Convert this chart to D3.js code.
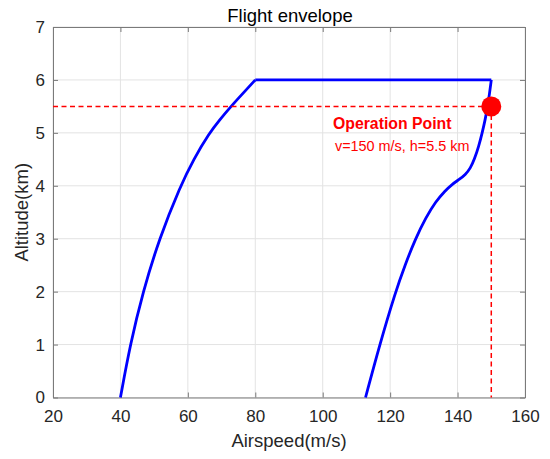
<!DOCTYPE html>
<html>
<head>
<meta charset="utf-8">
<script src="https://cdn.jsdelivr.net/npm/d3@7"></script>
<style>
  html, body { margin: 0; padding: 0; background: #fff; }
  svg { display: block; }
  text { font-family: "Liberation Sans", Arial, Helvetica, sans-serif; }
</style>
</head>
<body>
<script>
// ---- data ----
const xTicks = [20, 40, 60, 80, 100, 120, 140, 160];
const yTicks = [0, 1, 2, 3, 4, 5, 6, 7];

// low-speed (stall) boundary
const leftSpeed = [40, 42.9, 46.7, 51.5, 57.8, 61.7, 66.4, 69.5, 72.8, 76.4, 80];
const leftAlt   = [0, 1, 2, 3, 4, 4.5, 5.0, 5.25, 5.5, 5.75, 6];
// ceiling
const topSpeed = [80, 150];
const topAlt   = [6, 6];
// high-speed boundary
const rightSpeed = [150, 149.5, 148.9, 148.2, 147.3, 146.3, 145.0, 143.8, 142.3, 140.5, 138.4, 136.2, 133.5, 130.6, 127.5, 124.4, 121.6, 116.9, 112.7];
const rightAlt   = [6, 5.75, 5.5, 5.25, 5.0, 4.75, 4.5, 4.33, 4.21, 4.12, 4.03, 3.9, 3.7, 3.4, 3, 2.5, 2, 1, 0];

const opSpeed = 150, opAlt = 5.5;
const opTitle = "Operation Point";
const opText = "v=150 m/s, h=5.5 km";

// ---- layout ----
const W = 550, H = 459;
const L = 53, R = 525, T = 27, B = 397.5;

const svg = d3.select("body").append("svg").attr("width", W).attr("height", H);

const x = d3.scaleLinear().domain([20, 160]).range([L, R]);
const y = d3.scaleLinear().domain([0, 7]).range([B, T]);

// grid
const grid = svg.append("g").attr("stroke", "#e3e3e3").attr("stroke-width", 1);
xTicks.forEach(t => grid.append("line").attr("x1", x(t)).attr("x2", x(t)).attr("y1", T).attr("y2", B));
yTicks.forEach(t => grid.append("line").attr("y1", y(t)).attr("y2", y(t)).attr("x1", L).attr("x2", R));

const axisColor = "#7a7a7a";
const tickColor = "#262626";
const fmt = d3.format("d");

// axes (ticks inward)
const gx = svg.append("g").attr("transform", `translate(0,${B})`)
  .call(d3.axisBottom(x).tickValues(xTicks).tickFormat(fmt).tickSizeInner(-5).tickSizeOuter(0).tickPadding(12));
const gy = svg.append("g").attr("transform", `translate(${L},0)`)
  .call(d3.axisLeft(y).tickValues(yTicks).tickFormat(fmt).tickSizeInner(-5).tickSizeOuter(0).tickPadding(8));
const gx2 = svg.append("g").attr("transform", `translate(0,${T})`)
  .call(d3.axisTop(x).tickValues(xTicks).tickSizeInner(-5).tickSizeOuter(0).tickFormat(""));
const gy2 = svg.append("g").attr("transform", `translate(${R},0)`)
  .call(d3.axisRight(y).tickValues(yTicks).tickSizeInner(-5).tickSizeOuter(0).tickFormat(""));
[gx, gy, gx2, gy2].forEach(g => {
  g.select(".domain").attr("stroke", axisColor);
  g.selectAll(".tick line").attr("stroke", axisColor);
  g.selectAll(".tick text").attr("fill", tickColor).style("font-size", "17px")
    .style("font-family", '"Liberation Sans", Arial, sans-serif');
});
gx.selectAll(".tick text").attr("dy", "0.71em");

// envelope
const zip = (a, b) => a.map((v, i) => [v, b[i]]);
const smooth = d3.line().x(d => x(d[0])).y(d => y(d[1])).curve(d3.curveBasis);
const straight = d3.line().x(d => x(d[0])).y(d => y(d[1]));
const env = svg.append("g").attr("fill", "none").attr("stroke", "#0000ff").attr("stroke-width", 2.8)
  .attr("stroke-linejoin", "round");
env.append("path").attr("d", smooth(zip(leftSpeed, leftAlt)));
env.append("path").attr("d", straight(zip(topSpeed, topAlt)));
env.append("path").attr("d", smooth(zip(rightSpeed, rightAlt)));

// operation point guides
const guide = svg.append("g").attr("stroke", "#ff0000").attr("stroke-width", 1.5).attr("stroke-dasharray", "5,3.5");
guide.append("line").attr("x1", x(20)).attr("x2", x(opSpeed)).attr("y1", y(opAlt)).attr("y2", y(opAlt));
guide.append("line").attr("x1", x(opSpeed)).attr("x2", x(opSpeed)).attr("y1", y(opAlt)).attr("y2", y(0));

svg.append("circle").attr("cx", x(opSpeed)).attr("cy", y(opAlt)).attr("r", 10).attr("fill", "#ff0000");

svg.append("text").attr("x", 333).attr("y", 129).attr("fill", "#ff0000")
  .style("font-size", "15.8px").style("font-weight", "bold").text(opTitle);
svg.append("text").attr("x", 335).attr("y", 151).attr("fill", "#ff0000")
  .style("font-size", "14.4px").text(opText);

// titles
svg.append("text").attr("x", (L + R) / 2 + 1).attr("y", 22).attr("text-anchor", "middle")
  .attr("fill", "#000").style("font-size", "18.5px").text("Flight envelope");
svg.append("text").attr("x", (L + R) / 2).attr("y", 447).attr("text-anchor", "middle")
  .attr("fill", "#262626").style("font-size", "18.5px").text("Airspeed(m/s)");
svg.append("text").attr("transform", `translate(28,${(T + B) / 2}) rotate(-90)`).attr("text-anchor", "middle")
  .attr("fill", "#262626").style("font-size", "18.5px").text("Altitude(km)");
</script>
</body>
</html>
